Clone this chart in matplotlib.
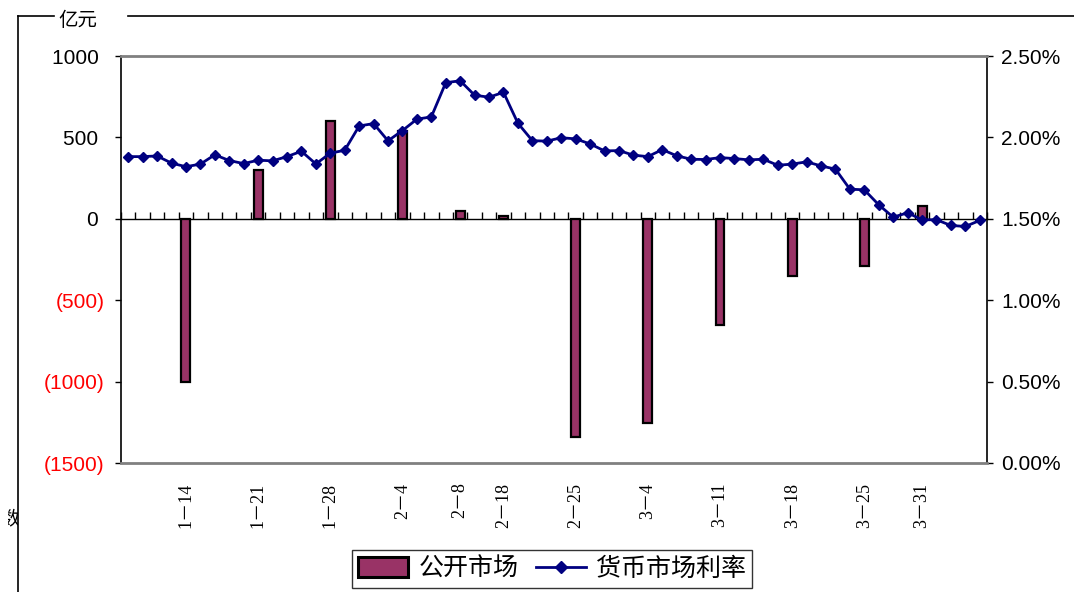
import matplotlib
matplotlib.use('Agg')
import matplotlib.pyplot as plt
import matplotlib.transforms as mtransforms
from matplotlib.patches import Patch, Rectangle
from matplotlib.lines import Line2D

plt.rcParams['font.family'] = ['Liberation Sans', 'Noto Sans CJK SC', 'DejaVu Sans']

# money market rate (%), one point per trading day
rates = [1.882, 1.882, 1.886, 1.842, 1.820, 1.836, 1.893, 1.858, 1.839, 1.860,
         1.856, 1.882, 1.915, 1.837, 1.903, 1.921, 2.070, 2.085, 1.979, 2.042,
         2.112, 2.126, 2.336, 2.348, 2.259, 2.247, 2.277, 2.087, 1.980, 1.977,
         1.998, 1.991, 1.960, 1.917, 1.919, 1.891, 1.882, 1.925, 1.887, 1.866,
         1.864, 1.876, 1.870, 1.862, 1.866, 1.829, 1.836, 1.850, 1.825, 1.805,
         1.682, 1.678, 1.586, 1.510, 1.537, 1.494, 1.494, 1.459, 1.453, 1.490]

# open market operations (亿元) on operation days
op_day = [4, 9, 14, 19, 23, 26, 31, 36, 41, 46, 51, 55]
op_labels = ['1－14', '1－21', '1－28', '2－4', '2－8', '2－18',
             '2－25', '3－4', '3－11', '3－18', '3－25', '3－31']
op_vals = [-1000, 300, 600, 540, 50, 20, -1340, -1255, -650, -350, -290, 80]

left_ticks = [-1500, -1000, -500, 0, 500, 1000]
right_ticks = [0.0, 0.5, 1.0, 1.5, 2.0, 2.5]

W, H = 1074, 592
fig = plt.figure(figsize=(W / 100, H / 100), dpi=100)
ax = fig.add_axes([121 / W, 1 - 463 / H, (987 - 121) / W, (463 - 56) / H])
ax2 = ax.twinx()

n = len(rates)
ax.bar(op_day, op_vals, width=0.62, color='#993366', edgecolor='black', linewidth=1.6, zorder=3)
ax.set_xlim(-0.5, n - 0.5)
ax.set_ylim(-1500, 1000)
ax2.plot(range(n), rates, color='#000080', linewidth=2, marker='D', markersize=5.5, zorder=4)
ax2.set_ylim(0, 2.5)

# spines: category axis sits on the zero line, frame in gray
ax.spines['bottom'].set_position(('data', 0))
ax.spines['bottom'].set_linewidth(1.0)
ax.spines['top'].set_visible(False)
ax.spines['right'].set_visible(False)
ax.spines['left'].set_linewidth(1.2)
ax2.spines['left'].set_visible(False)
ax2.spines['right'].set_linewidth(1.2)
for s in ('top', 'bottom'):
    ax2.spines[s].set_color('#808080')
    ax2.spines[s].set_linewidth(2)

ax.set_xticks([k - 0.5 for k in range(n + 1)])
ax.tick_params(axis='x', direction='in', length=5, width=1, labelbottom=False)
ax2.tick_params(axis='x', bottom=False, labelbottom=False)

ax.set_yticks(left_ticks)
ax.set_yticklabels([f'({-v})' if v < 0 else f'{v} ' for v in left_ticks])
ax.tick_params(axis='y', direction='out', length=4, width=1, labelsize=15, pad=8)
for lab, v in zip(ax.get_yticklabels(), left_ticks):
    if v < 0:
        lab.set_color('red')

ax2.set_yticks(right_ticks)
ax2.set_yticklabels([f'{v:.2f}%' for v in right_ticks])
ax2.tick_params(axis='y', direction='out', length=4, width=1, labelsize=15, pad=6)

trans = mtransforms.blended_transform_factory(ax.transData, ax.transAxes)
for x, lab in zip(op_day, op_labels):
    ax.text(x, -0.048, lab, transform=trans, rotation=90, ha='center', va='top',
            fontsize=13, family=['Liberation Serif', 'Noto Sans CJK SC'])

# legend
handles = [Patch(facecolor='#993366', edgecolor='black', linewidth=2.2),
           Line2D([], [], color='#000080', linewidth=2, marker='D', markersize=6)]
leg = fig.legend(handles, ['公开市场', '货币市场利率'], loc='center', ncol=2,
                 bbox_to_anchor=(552 / W, 1 - 569 / H), fancybox=False, frameon=True,
                 prop={'family': ['Noto Sans CJK SC'], 'size': 18},
                 handlelength=2.0, handleheight=0.85, handletextpad=0.4,
                 columnspacing=0.7, borderpad=0.25, borderaxespad=0)
leg.get_frame().set_edgecolor('black')
leg.get_frame().set_linewidth(1)

# outer frame with unit caption
fig.add_artist(Line2D([18 / W, 18 / W], [1 - 16 / H, 0], color='black', linewidth=1.2,
                      transform=fig.transFigure))
fig.add_artist(Line2D([18 / W, 54 / W], [1 - 16 / H, 1 - 16 / H], color='black', linewidth=1.2,
                      transform=fig.transFigure))
fig.add_artist(Line2D([128 / W, 1], [1 - 16 / H, 1 - 16 / H], color='black', linewidth=1.2,
                      transform=fig.transFigure))
fig.text(58 / W, 1 - 20 / H, '亿元', ha='left', va='center', fontsize=14,
         family=['Noto Sans CJK SC'])
t = fig.text(10 / W, 1 - 520 / H, '数', ha='center', va='center', fontsize=14,
             family=['Noto Sans CJK SC'])
t.set_clip_path(Rectangle((8 / W, 0), 10 / W, 1, transform=fig.transFigure))

fig.savefig('out.png', dpi=100)
